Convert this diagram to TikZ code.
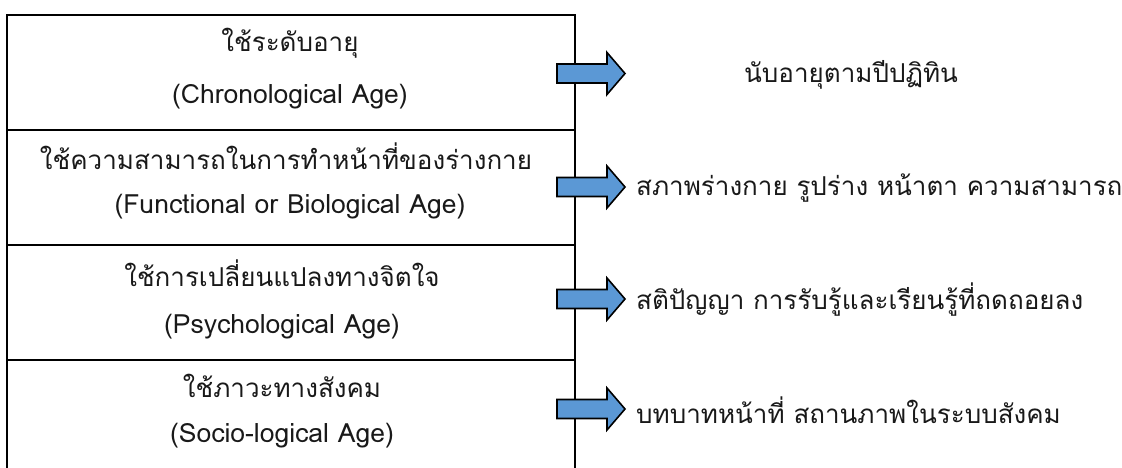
\documentclass[tikz,border=0pt]{standalone}
\usepackage{fontspec}
\newfontfamily\thaifont[Script=Thai]{Loma}
\definecolor{arrowblue}{RGB}{91,152,213}
\tikzset{
  frame/.style={line width=2pt, draw=black},
  lbl/.style={font=\thaifont\fontsize{26}{30}\selectfont, inner sep=0pt, text=black!90},
  elbl/.style={font=\thaifont\fontsize{26.5}{30}\selectfont, inner sep=0pt, text=black!90},
  rlbl/.style={lbl, anchor=west},
  blockarrow/.style={fill=arrowblue, draw=black, line width=1.6pt, line join=miter},
}
\newcommand\blockarr[1]{%
  \draw[blockarrow] (557,#1-9.5) -- (607,#1-9.5) -- (607,#1-21) -- (625,#1) -- (607,#1+21) -- (607,#1+9.5) -- (557,#1+9.5) -- cycle;}
\begin{document}
\begin{tikzpicture}[x=1pt,y=-1pt]
\useasboundingbox (0,0) rectangle (1122,468);
% frame
\draw[frame] (7,468) -- (7,15) -- (575,15) -- (575,468);
\draw[frame] (7,130) -- (575,130);
\draw[frame] (7,245) -- (575,245);
\draw[frame] (7,360) -- (575,360);
% left labels
\node[lbl] (a1) at (290,43) {ใช้ระดับอายุ};
\node[elbl] (a2) at (290,97) {(Chronological Age)};
\node[lbl] (b1) at (286,156) {ใช้ความสามารถในการทำหน้าที่ของร่างกาย};
\node[elbl] (b2) at (290,207) {(Functional or Biological Age)};
\node[lbl] (c1) at (282,273) {ใช้การเปลี่ยนแปลงทางจิตใจ};
\node[elbl] (c2) at (282,327) {(Psychological Age)};
\node[lbl] (d1) at (282,386) {ใช้ภาวะทางสังคม};
\node[elbl] (d2) at (282,436) {(Socio-logical Age)};
% arrows
\blockarr{73.5}
\blockarr{187}
\blockarr{299}
\blockarr{409}
% right labels
\node[rlbl] (r1) at (744,75) {นับอายุตามปีปฏิทิน};
\node[rlbl] (r2) at (636,188) {สภาพร่างกาย รูปร่าง หน้าตา ความสามารถ};
\node[rlbl] (r3) at (636,300) {สติปัญญา การรับรู้และเรียนรู้ที่ถดถอยลง};
\node[rlbl] (r4) at (636,410) {บทบาทหน้าที่ สถานภาพในระบบสังคม};
\end{tikzpicture}
\end{document}
